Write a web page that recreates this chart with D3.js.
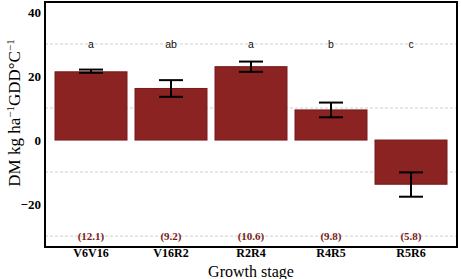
<!DOCTYPE html>
<html>
<head>
<meta charset="utf-8">
<script src="https://cdn.jsdelivr.net/npm/d3@7"></script>
<style>
  body { margin: 0; background: #fff; }
  svg { display: block; }
</style>
</head>
<body>
<svg id="chart" width="461" height="279"></svg>
<script>
// Chart data
const stages = ["V6V16", "V16R2", "R2R4", "R4R5", "R5R6"];
const means = [21.3, 16.1, 22.9, 9.4, -13.8];
const errLow = [21.0, 13.5, 21.3, 7.1, -17.7];
const errHigh = [22.0, 18.7, 24.5, 11.7, -10.1];
const letters = ["a", "ab", "a", "b", "c"];
const gddLabels = ["(12.1)", "(9.2)", "(10.6)", "(9.8)", "(5.8)"];
const yTicks = [-20, 0, 20, 40];
const gridValues = [-30, -10, 10, 30];

const svg = d3.select("#chart");
const panel = { left: 45, right: 457, top: 2, bottom: 247 };
const serif = "'Liberation Serif', 'Times New Roman', serif";

const x = d3.scaleBand().domain(stages).range([panel.left, panel.right])
    .paddingInner(0.1).paddingOuter(0.125);
const y = d3.scaleLinear().domain([-33.4, 43.1]).range([panel.bottom, panel.top]);
const cx = d => x(d) + x.bandwidth() / 2;

// dashed grid lines
svg.selectAll(".grid").data(gridValues).enter().append("line")
    .attr("x1", panel.left).attr("x2", panel.right)
    .attr("y1", d => y(d)).attr("y2", d => y(d))
    .attr("stroke", "#cfcfcf").attr("stroke-width", 1)
    .attr("stroke-dasharray", "3,2");

// bars
svg.selectAll(".bar").data(stages).enter().append("rect")
    .attr("x", d => x(d))
    .attr("width", x.bandwidth())
    .attr("y", (d, i) => y(Math.max(0, means[i])))
    .attr("height", (d, i) => Math.abs(y(means[i]) - y(0)))
    .attr("fill", "#8b2323")
    .attr("stroke", "#761a1a").attr("stroke-width", 1);

// error bars
const errW = 24;
const eb = svg.selectAll(".err").data(stages).enter().append("g")
    .attr("stroke", "#000").attr("stroke-width", 2);
eb.append("line")
    .attr("x1", cx).attr("x2", cx)
    .attr("y1", (d, i) => y(errLow[i])).attr("y2", (d, i) => y(errHigh[i]));
eb.append("line")
    .attr("x1", d => cx(d) - errW / 2).attr("x2", d => cx(d) + errW / 2)
    .attr("y1", (d, i) => y(errLow[i])).attr("y2", (d, i) => y(errLow[i]));
eb.append("line")
    .attr("x1", d => cx(d) - errW / 2).attr("x2", d => cx(d) + errW / 2)
    .attr("y1", (d, i) => y(errHigh[i])).attr("y2", (d, i) => y(errHigh[i]));

// significance letters
svg.selectAll(".letter").data(stages).enter().append("text")
    .attr("x", cx)
    .attr("y", y(30)).attr("dy", "0.35em")
    .attr("text-anchor", "middle")
    .attr("font-family", "'Liberation Sans', Arial, sans-serif")
    .attr("font-size", 10.5).attr("fill", "#111")
    .text((d, i) => letters[i]);

// GDD labels at the bottom
svg.selectAll(".gdd").data(stages).enter().append("text")
    .attr("x", cx)
    .attr("y", y(-30)).attr("dy", "0.35em")
    .attr("text-anchor", "middle")
    .attr("font-family", serif)
    .attr("font-weight", "bold")
    .attr("font-size", 11).attr("fill", "#7a1a1a")
    .text((d, i) => gddLabels[i]);

// panel border
svg.append("rect")
    .attr("x", panel.left).attr("y", panel.top)
    .attr("width", panel.right - panel.left).attr("height", panel.bottom - panel.top)
    .attr("fill", "none").attr("stroke", "#000").attr("stroke-width", 2);

// axes
const yAxis = svg.append("g").attr("transform", `translate(${panel.left},0)`)
    .call(d3.axisLeft(y).tickValues(yTicks).tickSize(0).tickPadding(4));
yAxis.select(".domain").remove();
yAxis.selectAll("text")
    .attr("font-family", serif)
    .attr("font-weight", "bold").attr("font-size", 13).attr("fill", "#000");

const xAxis = svg.append("g").attr("transform", `translate(0,${panel.bottom})`)
    .call(d3.axisBottom(x).tickSize(0).tickPadding(1));
xAxis.select(".domain").remove();
xAxis.selectAll("text")
    .attr("font-family", serif)
    .attr("font-weight", "bold").attr("font-size", 12).attr("fill", "#000");

// axis titles
svg.append("text")
    .attr("x", (panel.left + panel.right) / 2).attr("y", 277)
    .attr("text-anchor", "middle")
    .attr("font-family", serif)
    .attr("font-size", 16)
    .text("Growth stage");

const yTitle = svg.append("text")
    .attr("transform", "translate(20,113) rotate(-90)")
    .attr("text-anchor", "middle")
    .attr("font-family", serif)
    .attr("font-size", 17);
yTitle.append("tspan").text("DM kg ha");
yTitle.append("tspan").attr("dy", -6).attr("font-size", 11).text("\u22121");
yTitle.append("tspan").attr("dy", 6).text("GDD\u00B0C");
yTitle.append("tspan").attr("dy", -6).attr("font-size", 11).text("\u22121");
</script>
</body>
</html>
